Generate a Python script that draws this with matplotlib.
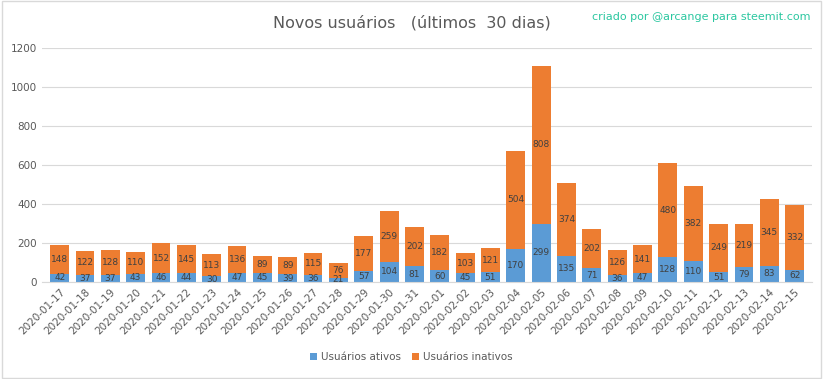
import matplotlib.pyplot as plt
import numpy as np

datas = ['2020-01-17', '2020-01-18', '2020-01-19', '2020-01-20', '2020-01-21', '2020-01-22',
         '2020-01-23', '2020-01-24', '2020-01-25', '2020-01-26', '2020-01-27', '2020-01-28',
         '2020-01-29', '2020-01-30', '2020-01-31', '2020-02-01', '2020-02-02', '2020-02-03',
         '2020-02-04', '2020-02-05', '2020-02-06', '2020-02-07', '2020-02-08', '2020-02-09',
         '2020-02-10', '2020-02-11', '2020-02-12', '2020-02-13', '2020-02-14', '2020-02-15']
ativos = [42, 37, 37, 43, 46, 44, 30, 47, 45, 39, 36, 21, 57, 104, 81,
          60, 45, 51, 170, 299, 135, 71, 36, 47, 128, 110, 51, 79, 83, 62]
inativos = [148, 122, 128, 110, 152, 145, 113, 136, 89, 89, 115, 76, 177, 259, 202,
            182, 103, 121, 504, 808, 374, 202, 126, 141, 480, 382, 249, 219, 345, 332]

azul = '#5B9BD5'
laranja = '#ED7D31'
cinza = '#595959'

fig = plt.figure(figsize=(8.23, 3.79), dpi=100)
ax = fig.add_axes([0.051, 0.256, 0.936, 0.617])

x = np.arange(len(datas))
b1 = ax.bar(x, ativos, width=0.74, color=azul, label='Usuários ativos', zorder=2)
b2 = ax.bar(x, inativos, width=0.74, bottom=ativos, color=laranja, label='Usuários inativos', zorder=2)
ax.bar_label(b1, label_type='center', fontsize=6.5, color='#404040')
ax.bar_label(b2, label_type='center', fontsize=6.5, color='#404040')

ax.set_xlim(-0.7, len(datas) - 0.3)
ax.set_ylim(0, 1200)
ax.set_yticks(range(0, 1201, 200))
ax.grid(axis='y', color='#D9D9D9', linewidth=0.8, zorder=0)
for s in ax.spines.values():
    s.set_visible(False)
ax.spines['bottom'].set_visible(True)
ax.spines['bottom'].set_color('#D9D9D9')
ax.tick_params(length=0, labelsize=7.5, colors=cinza)
ax.set_xticks(x)
ax.set_xticklabels(datas, rotation=45, ha='right', rotation_mode='anchor', fontsize=7.5)

fig.text(0.5, 0.94, 'Novos usuários   (últimos  30 dias)', ha='center', va='center',
         fontsize=11.5, color=cinza)
fig.text(0.985, 0.955, 'criado por @arcange para steemit.com', ha='right', va='center',
         fontsize=8, color='#2BC7A0')

fig.legend(handles=[b1, b2], loc='center', bbox_to_anchor=(0.5, 0.058), ncol=2,
           frameon=False, fontsize=7.5, handlelength=0.7, handleheight=0.7,
           columnspacing=1.0, handletextpad=0.4, labelcolor=cinza)

fig.patches.append(plt.Rectangle((0.002, 0.003), 0.996, 0.994, transform=fig.transFigure,
                                 fill=False, edgecolor='#D9D9D9', linewidth=1))

plt.savefig('out.png', dpi=100)
